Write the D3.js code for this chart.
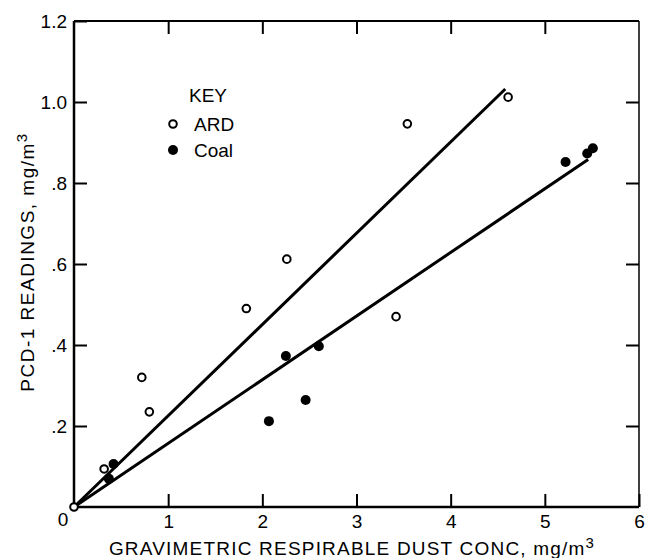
<!DOCTYPE html>
<html>
<head>
<meta charset="utf-8">
<script src="https://cdn.jsdelivr.net/npm/d3@7"></script>
<style>
	body { margin: 0; background: #fff; }
	text { font-family: "Liberation Sans", Arial, sans-serif; fill: #000; }
</style>
</head>
<body>
<div id="chart"></div>
<script>
var w = 646;
var h = 558;
var margin = {top: 21, right: 7, bottom: 51, left: 74};

// ARD (open circles)
var ardX = [0.0, 0.32, 0.72, 0.80, 1.83, 2.26, 3.42, 3.54, 4.61];
var ardY = [0.0, 0.094, 0.32, 0.235, 0.49, 0.612, 0.47, 0.946, 1.012];

// Coal (filled circles)
var coalX = [0.37, 0.42, 2.07, 2.25, 2.46, 2.60, 5.22, 5.45, 5.51];
var coalY = [0.07, 0.106, 0.212, 0.373, 0.264, 0.397, 0.852, 0.873, 0.886];

// fitted lines, endpoints
var ardFitX = [0, 4.58];
var ardFitY = [0, 1.032];
var coalFitX = [0, 5.46];
var coalFitY = [0, 0.858];

var xTicks = [1, 2, 3, 4, 5, 6];
var yTicks = [0.2, 0.4, 0.6, 0.8, 1.0, 1.2];

var xScale = d3.scaleLinear()
				.domain([0, 6])
				.range([margin.left, w - margin.right]);

var yScale = d3.scaleLinear()
				.domain([0, 1.2])
				.range([h - margin.bottom, margin.top]);

var svg = d3.select("#chart")
				.append("svg")
				.attr("width", w)
				.attr("height", h);

var tickLen = 13;

function yFormat(d) {
	var s = d.toFixed(1);
	return d < 1 ? s.replace(/^0/, "") : s;
}

// bottom axis
var xAxis = d3.axisBottom(xScale)
				.tickValues(xTicks)
				.tickSizeInner(-tickLen)
				.tickSizeOuter(0)
				.tickPadding(8)
				.tickFormat(d3.format("d"));

svg.append("g")
	.attr("class", "axisX")
	.attr("transform", "translate(0," + (h - margin.bottom) + ")")
	.call(xAxis);

// top axis, ticks only
svg.append("g")
	.attr("transform", "translate(0," + margin.top + ")")
	.call(d3.axisTop(xScale).tickValues([1, 2, 3, 4, 5]).tickSizeInner(-tickLen).tickSizeOuter(0).tickFormat(""));

// left axis
var yAxis = d3.axisLeft(yScale)
				.tickValues(yTicks)
				.tickSizeInner(-tickLen)
				.tickSizeOuter(0)
				.tickPadding(7)
				.tickFormat(yFormat);

svg.append("g")
	.attr("class", "axisY")
	.attr("transform", "translate(" + margin.left + ",0)")
	.call(yAxis);

// right axis, ticks only
svg.append("g")
	.attr("transform", "translate(" + (w - margin.right) + ",0)")
	.call(d3.axisRight(yScale).tickValues([0.2, 0.4, 0.6, 0.8, 1.0]).tickSizeInner(-tickLen).tickSizeOuter(0).tickFormat(""));

svg.selectAll(".domain").remove();
svg.selectAll(".tick line").attr("stroke", "#000").attr("stroke-width", 2);
svg.selectAll(".tick text").style("font-size", "19px").attr("fill", "#000");
svg.selectAll(".axisY .tick text").attr("dy", "0.36em");

// frame
var x0 = xScale(0), x1 = xScale(6), y0 = yScale(0), y1 = yScale(1.2);
svg.append("line").attr("x1", x0).attr("y1", y0).attr("x2", x1).attr("y2", y0)
	.attr("stroke", "#000").attr("stroke-width", 2.5);
svg.append("line").attr("x1", x0).attr("y1", y0).attr("x2", x0).attr("y2", y1)
	.attr("stroke", "#000").attr("stroke-width", 2.5);
svg.append("line").attr("x1", x0).attr("y1", y1).attr("x2", x1).attr("y2", y1)
	.attr("stroke", "#000").attr("stroke-width", 2);
svg.append("line").attr("x1", x1).attr("y1", y1).attr("x2", x1).attr("y2", y0)
	.attr("stroke", "#000").attr("stroke-width", 1.5);

// shared zero label at the corner
svg.append("text")
	.attr("x", xScale(0) - 11)
	.attr("y", yScale(0) + 19)
	.style("text-anchor", "middle")
	.style("font-size", "19px")
	.text("0");

// fitted lines
var line = d3.line()
			.x(function(d) { return xScale(d[0]); })
			.y(function(d) { return yScale(d[1]); });

svg.append("path")
	.datum(d3.zip(ardFitX, ardFitY))
	.attr("d", line)
	.attr("fill", "none")
	.attr("stroke", "#000")
	.attr("stroke-width", 3);

svg.append("path")
	.datum(d3.zip(coalFitX, coalFitY))
	.attr("d", line)
	.attr("fill", "none")
	.attr("stroke", "#000")
	.attr("stroke-width", 3);

// points
svg.selectAll(".ard")
	.data(d3.zip(ardX, ardY))
	.enter()
	.append("circle")
	.attr("class", "ard")
	.attr("cx", function(d) { return xScale(d[0]); })
	.attr("cy", function(d) { return yScale(d[1]); })
	.attr("r", 3.8)
	.attr("fill", "#fff")
	.attr("stroke", "#000")
	.attr("stroke-width", 2);

svg.selectAll(".coal")
	.data(d3.zip(coalX, coalY))
	.enter()
	.append("circle")
	.attr("class", "coal")
	.attr("cx", function(d) { return xScale(d[0]); })
	.attr("cy", function(d) { return yScale(d[1]); })
	.attr("r", 5)
	.attr("fill", "#000");

// key
svg.append("text")
	.attr("x", 189)
	.attr("y", 102)
	.style("font-size", "19px")
	.text("KEY");

svg.append("circle")
	.attr("cx", 173).attr("cy", 124).attr("r", 3.8)
	.attr("fill", "#fff").attr("stroke", "#000").attr("stroke-width", 2);
svg.append("text")
	.attr("x", 194)
	.attr("y", 131)
	.style("font-size", "19px")
	.text("ARD");

svg.append("circle")
	.attr("cx", 173).attr("cy", 150).attr("r", 5)
	.attr("fill", "#000");
svg.append("text")
	.attr("x", 194)
	.attr("y", 157)
	.style("font-size", "19px")
	.text("Coal");

// axis titles
var xt = svg.append("text")
	.attr("x", 352)
	.attr("y", 555)
	.style("text-anchor", "middle")
	.style("font-size", "19px")
	.style("letter-spacing", "1.2px");
xt.append("tspan").text("GRAVIMETRIC RESPIRABLE DUST CONC, mg/m");
xt.append("tspan").attr("dy", "-0.45em").style("font-size", "15px").text("3");

var yt = svg.append("text")
	.attr("transform", "translate(34,262) rotate(-90)")
	.style("text-anchor", "middle")
	.style("font-size", "19px")
	.style("letter-spacing", "1.5px");
yt.append("tspan").text("PCD-1 READINGS, mg/m");
yt.append("tspan").attr("dy", "-0.45em").style("font-size", "15px").text("3");
</script>
</body>
</html>
